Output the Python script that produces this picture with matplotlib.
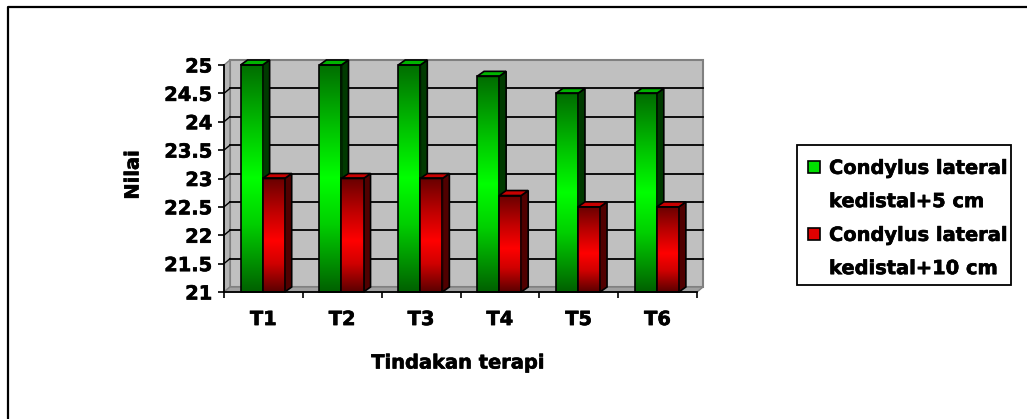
import numpy as np
import matplotlib
matplotlib.use("Agg")
import matplotlib.pyplot as plt
import matplotlib.patheffects as pe
from matplotlib.patches import Polygon, Rectangle
from matplotlib.lines import Line2D
from matplotlib.colors import LinearSegmentedColormap

# ---- data ----
categories = ["T1", "T2", "T3", "T4", "T5", "T6"]
series_names = ["Condylus lateral\nkedistal+5 cm", "Condylus lateral\nkedistal+10 cm"]
values_5cm = [25.0, 25.0, 25.0, 24.8, 24.5, 24.5]
values_10cm = [23.0, 23.0, 23.0, 22.7, 22.5, 22.5]
y_ticks = [21, 21.5, 22, 22.5, 23, 23.5, 24, 24.5, 25]
y_label = "Nilai"
x_label = "Tindakan terapi"

plt.rcParams["font.family"] = ["DejaVu Sans"]
plt.rcParams["font.weight"] = "bold"
FS = 14
heavy = [pe.withStroke(linewidth=0.45, foreground="black")]

W, H = 1027, 419
fig = plt.figure(figsize=(W / 100, H / 100), dpi=100)
fig.patch.set_facecolor("white")


def fx(px):
    return px / W


def fy(py):
    return 1 - py / H


# front plane of the 3-D box
L, R, B, T = 224, 697, 292, 65
ax = fig.add_axes([fx(L), fy(B), fx(R) - fx(L), fy(T) - fy(B)])
ymin, ymax = y_ticks[0], y_ticks[-1]
n = len(categories)
ax.set_xlim(0, n)
ax.set_ylim(ymin, ymax)
ax.set_facecolor("none")

sx = n / (R - L)              # data units per pixel (x)
sy = (ymax - ymin) / (B - T)  # data units per pixel (y)
wdx, wdy = 6 * sx, 5 * sy     # wall depth
bdx, bdy = 7 * sx, 5 * sy     # bar depth

# walls and floor
back = Polygon([(wdx, ymin + wdy), (n + wdx, ymin + wdy), (n + wdx, ymax + wdy), (wdx, ymax + wdy)],
               closed=True, fc="#c0c0c0", ec="#808080", lw=1.5, zorder=0, clip_on=False)
side = Polygon([(0, ymin), (wdx, ymin + wdy), (wdx, ymax + wdy), (0, ymax)],
               closed=True, fc="#b4b4b4", ec="#808080", lw=1.0, zorder=0.1, clip_on=False)
floor = Polygon([(0, ymin), (n, ymin), (n + wdx, ymin + wdy), (wdx, ymin + wdy)],
                closed=True, fc="#a0a0a0", ec="#808080", lw=1.0, zorder=0.2, clip_on=False)
for p in (back, side, floor):
    ax.add_patch(p)

# gridlines on the back and side walls
for yv in y_ticks[1:-1]:
    ax.plot([wdx, n + wdx], [yv + wdy, yv + wdy], color="black", lw=1.3, zorder=0.5, clip_on=False)
    ax.plot([0, wdx], [yv, yv + wdy], color="black", lw=1.0, zorder=0.5, clip_on=False)

green_cmap = LinearSegmentedColormap.from_list(
    "g", [(0, "#006000"), (0.3, "#00d000"), (0.5, "#00ff00"), (0.7, "#00c800"), (1, "#006c00")])
red_cmap = LinearSegmentedColormap.from_list(
    "r", [(0, "#5a0000"), (0.25, "#d00000"), (0.45, "#ff0000"), (0.7, "#c00000"), (1, "#680000")])
grad = np.linspace(0, 1, 256).reshape(-1, 1)

bw = 0.28
split = -0.01
series = [
    (values_5cm, -bw + split, green_cmap, "#00b400", "#003a00"),
    (values_10cm, split, red_cmap, "#c80000", "#500000"),
]
x_pos = np.arange(n) + 0.5

z = 2
for i in range(n):
    for vals, off, cmap, topc, sidec in series:
        x0 = x_pos[i] + off
        v = vals[i]
        bars = ax.bar([x0], [v - ymin], bottom=ymin, width=bw, align="edge",
                      color="none", edgecolor="black", lw=1.2, zorder=z + 0.3, clip_on=False)
        rect = bars.patches[0]
        im = ax.imshow(grad, extent=(x0, x0 + bw, ymin, v), origin="lower", aspect="auto",
                       cmap=cmap, zorder=z + 0.1, interpolation="bilinear")
        im.set_clip_path(rect)
        x1 = x0 + bw
        ax.add_patch(Polygon([(x1, ymin), (x1 + bdx, ymin + bdy), (x1 + bdx, v + bdy), (x1, v)],
                             closed=True, fc=sidec, ec="black", lw=1.2, zorder=z, clip_on=False))
        ax.add_patch(Polygon([(x0, v), (x1, v), (x1 + bdx, v + bdy), (x0 + bdx, v + bdy)],
                             closed=True, fc=topc, ec="black", lw=1.2, zorder=z + 0.2, clip_on=False))
        z += 1

ax.set_xlim(0, n)
ax.set_ylim(ymin, ymax)

# axes lines and ticks
for s in ("top", "right"):
    ax.spines[s].set_visible(False)
for s in ("left", "bottom"):
    ax.spines[s].set_color("black")
    ax.spines[s].set_linewidth(1.3)
    ax.spines[s].set_zorder(50)

ax.set_yticks(y_ticks)
ax.set_yticklabels([f"{t:g}" for t in y_ticks], fontsize=FS, fontweight="bold")
ax.tick_params(axis="y", direction="out", length=4.3, width=1.2, pad=4, colors="black")
ax.set_xticks(np.arange(n + 1))
ax.set_xticklabels([])
ax.tick_params(axis="x", which="major", direction="out", length=4, width=1.2, colors="black")
ax.set_xticks(x_pos, minor=True)
ax.set_xticklabels(categories, minor=True, fontsize=FS, fontweight="bold")
ax.tick_params(axis="x", which="minor", length=0, pad=13)
for lab in ax.get_yticklabels() + ax.get_xticklabels(minor=True):
    lab.set_path_effects(heavy)

fig.text(fx(133), fy(175), y_label, rotation=90, ha="center", va="center",
         fontsize=FS, fontweight="bold", path_effects=heavy)
fig.text(fx(458), fy(363), x_label, ha="center", va="center",
         fontsize=FS, fontweight="bold", path_effects=heavy)

# legend box
fig.patches.append(Rectangle((fx(797), fy(285)), fx(1011) - fx(797), fy(145) - fy(285),
                             transform=fig.transFigure, fc="white", ec="black", lw=1.3))
legend_colors = ["#00e000", "#e00000"]
legend_y = [185, 252]
for name, col, yc in zip(series_names, legend_colors, legend_y):
    fig.patches.append(Rectangle((fx(808), fy(yc - 12)), fx(12), fy(0) - fy(12),
                                 transform=fig.transFigure, fc=col, ec="black", lw=1.2))
    fig.text(fx(829), fy(yc), name, ha="left", va="center", fontsize=FS,
             fontweight="bold", linespacing=1.95, path_effects=heavy)

# outer frame (left and top edges)
fig.add_artist(Line2D([fx(8), fx(8), 1.0], [0.0, fy(7), fy(7)], transform=fig.transFigure,
                      color="black", lw=1.6))

fig.savefig("out.png", dpi=100, facecolor="white")
